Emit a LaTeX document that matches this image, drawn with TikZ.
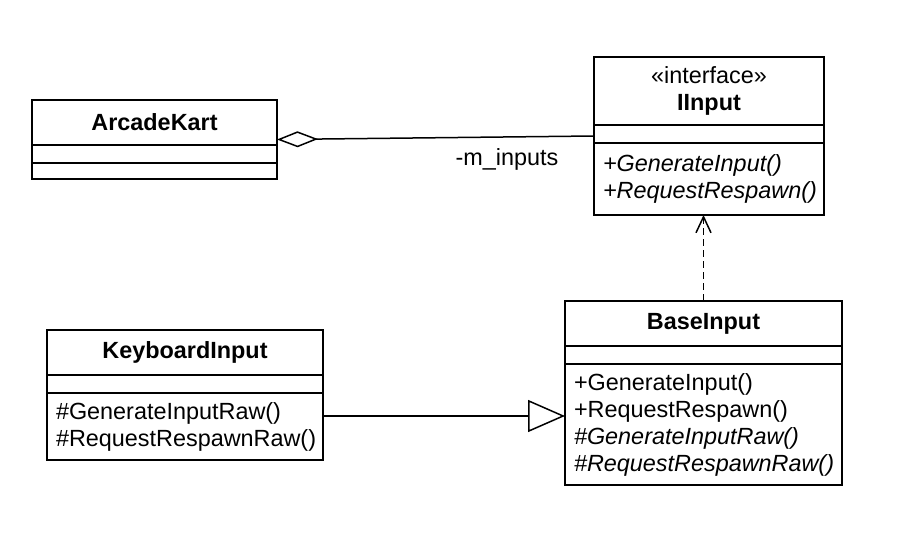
\documentclass[tikz,border=0pt]{standalone}
\usepackage{fontspec}
\setmainfont{Liberation Sans}
\usetikzlibrary{positioning,arrows.meta}

\newcommand{\umlfont}{\fontsize{11.7}{13.5}\selectfont}

\tikzset{
  umlbox/.style={draw, line width=0.75pt, inner sep=0pt, outer sep=0pt, font=\umlfont},
  classframe/.style={umlbox, anchor=north west},
  classname/.style={umlbox, anchor=north, minimum height=22.5pt, align=center, font=\umlfont\bfseries},
  classattr/.style={umlbox, minimum height=9pt},
  classops/.style={umlbox, align=left, inner xsep=4.5pt},
  aggregate/.style={line width=0.75pt, {Diamond[open,length=20.5pt,width=8pt]}-},
  realize/.style={line width=0.75pt, dash pattern=on 3.5pt off 2pt, -{Straight Barb[length=8pt,width=7.5pt]}},
  generalize/.style={line width=0.75pt, -{Triangle[open,length=18.5pt,width=16pt]}},
}

\begin{document}
\begin{tikzpicture}[x=0.5pt, y=-0.5pt]
  \useasboundingbox (0,0) rectangle (899,545);

  % ArcadeKart
  \node[classframe, minimum width=122.5pt, minimum height=39.5pt] (kart) at (32,100) {};
  \node[classname, minimum width=122.5pt] (kart-name) at (kart.north) {ArcadeKart};
  \node[classattr, below=0pt of kart-name, minimum width=122.5pt] (kart-attr) {};
  \node[classops, below=0pt of kart-attr, minimum width=122.5pt, minimum height=8pt] (kart-ops) {};

  % IInput
  \node[classframe, minimum width=115pt, minimum height=79pt] (iinput) at (594,57) {};
  \node[classname, minimum width=115pt, minimum height=34pt] (iinput-name) at (iinput.north)
    {{\mdseries «interface»}\\IInput};
  \node[classattr, below=0pt of iinput-name, minimum width=115pt] (iinput-attr) {};
  \node[classops, below=0pt of iinput-attr, text width=106pt, minimum height=36pt] (iinput-ops)
    {\textit{+GenerateInput()}\\\textit{+RequestRespawn()}};

  % BaseInput
  \node[classframe, minimum width=138.5pt, minimum height=92pt] (base) at (565,301) {};
  \node[classname, minimum width=138.5pt] (base-name) at (base.north) {BaseInput};
  \node[classattr, below=0pt of base-name, minimum width=138.5pt] (base-attr) {};
  \node[classops, below=0pt of base-attr, text width=129.5pt, minimum height=60.5pt] (base-ops)
    {+GenerateInput()\\+RequestRespawn()\\\textit{\#GenerateInputRaw()}\\\textit{\#RequestRespawnRaw()}};

  % KeyboardInput
  \node[classframe, minimum width=138pt, minimum height=65pt] (kb) at (47,330) {};
  \node[classname, minimum width=138pt] (kb-name) at (kb.north) {KeyboardInput};
  \node[classattr, below=0pt of kb-name, minimum width=138pt] (kb-attr) {};
  \node[classops, below=0pt of kb-attr, text width=129pt, minimum height=33.5pt] (kb-ops)
    {\#GenerateInputRaw()\\\#RequestRespawnRaw()};

  % relations
  \draw[aggregate] (kart.east) -- (iinput.west);
  \node[font=\umlfont, inner sep=0pt] (minputs) at (507,159) {-m\_inputs};
  \draw[realize] (base.north) -- (base.north |- iinput.south);
  \draw[generalize] ([yshift=-10.5pt]kb.east) -- ([yshift=-10.5pt]kb.east -| base.west);
\end{tikzpicture}
\end{document}
